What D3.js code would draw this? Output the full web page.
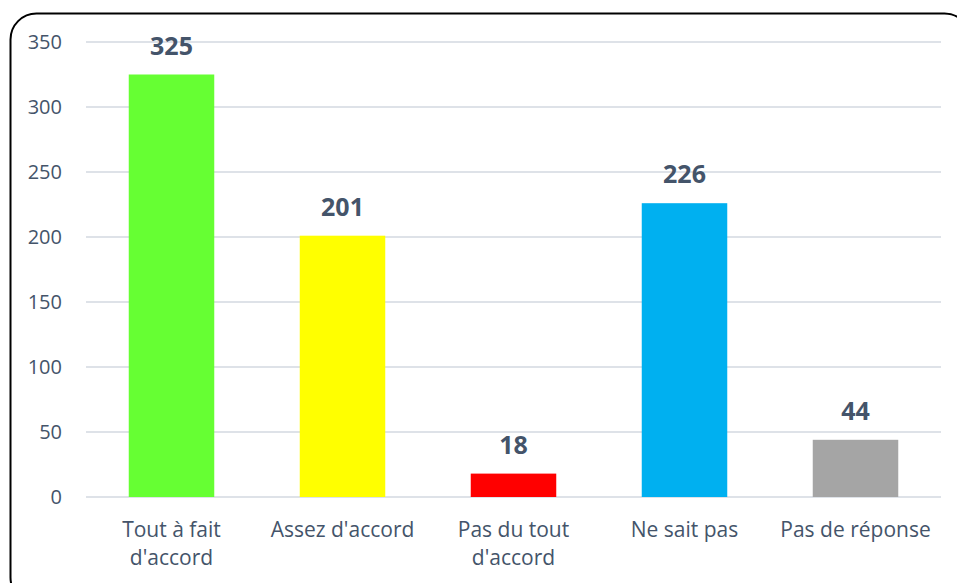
<!DOCTYPE html>
<html lang="fr">
    <head>
        <meta charset="utf-8">
        <title>Réponses</title>
        <script src="https://d3js.org/d3.v7.min.js"></script>
        <style>
            body { margin: 0; background: white; }
            text { font-family: "Open Sans", Lato, sans-serif; }
        </style>
    </head>
    <body>
        <script type="text/javascript">

            var categories = ["Tout à fait|d'accord", "Assez d'accord", "Pas du tout|d'accord", "Ne sait pas", "Pas de réponse"];
            var values = [325, 201, 18, 226, 44];
            var colors = ["#66FF33", "#FFFF00", "#FF0000", "#00B0F0", "#A5A5A5"];
            var yTicks = [0, 50, 100, 150, 200, 250, 300, 350];

            var outerWidth = 957, outerHeight = 583;
            var margin = { left: 86, top: 42, right: 16, bottom: 86 };
            var innerWidth = outerWidth - margin.left - margin.right;
            var innerHeight = outerHeight - margin.top - margin.bottom;

            var svg = d3.select("body").append("svg")
                .attr("width", outerWidth)
                .attr("height", outerHeight);

            // rounded frame, runs off the right and bottom edges
            svg.append("rect")
                .attr("x", 10.5).attr("y", 13.5)
                .attr("width", 960).attr("height", 590)
                .attr("rx", 26).attr("ry", 26)
                .attr("fill", "none")
                .attr("stroke", "black")
                .attr("stroke-width", 2);

            var g = svg.append("g")
                .attr("transform", `translate(${margin.left},${margin.top})`);

            var xScale = d3.scaleBand()
                .domain(categories)
                .range([0, innerWidth])
                .paddingInner(0.5)
                .paddingOuter(0.25);

            var yScale = d3.scaleLinear()
                .domain([0, 350])
                .range([innerHeight, 0]);

            // gridlines
            g.selectAll("line.grid")
                .data(yTicks)
                .enter().append("line")
                .attr("class", "grid")
                .attr("x1", 0).attr("x2", innerWidth)
                .attr("y1", d => yScale(d)).attr("y2", d => yScale(d))
                .attr("stroke", "#DEE2E8")
                .attr("stroke-width", 2);

            var yAxis = g.append("g")
                .call(d3.axisLeft(yScale).tickValues(yTicks).tickSize(0).tickPadding(24));
            yAxis.select(".domain").remove();
            yAxis.selectAll("text")
                .attr("fill", "#44546A")
                .style("font-size", "20px");

            g.selectAll("rect.bar")
                .data(values)
                .enter().append("rect")
                .attr("class", "bar")
                .attr("x", (d, i) => xScale(categories[i]))
                .attr("width", xScale.bandwidth())
                .attr("y", d => yScale(d))
                .attr("height", d => innerHeight - yScale(d))
                .attr("fill", (d, i) => colors[i]);

            g.selectAll("text.value")
                .data(values)
                .enter().append("text")
                .attr("class", "value")
                .attr("x", (d, i) => xScale(categories[i]) + xScale.bandwidth() / 2)
                .attr("y", d => yScale(d) - 20)
                .attr("text-anchor", "middle")
                .attr("fill", "#44546A")
                .style("font-size", "25px")
                .style("font-weight", "bold")
                .text(d => d);

            var labels = g.selectAll("text.cat")
                .data(categories)
                .enter().append("text")
                .attr("class", "cat")
                .attr("x", d => xScale(d) + xScale.bandwidth() / 2)
                .attr("y", innerHeight + 40)
                .attr("text-anchor", "middle")
                .attr("fill", "#44546A")
                .style("font-size", "21px");

            labels.selectAll("tspan")
                .data(d => d.split("|"))
                .enter().append("tspan")
                .attr("x", function() { return d3.select(this.parentNode).attr("x"); })
                .attr("dy", (d, i) => i === 0 ? 0 : 28)
                .text(d => d);

        </script>
    </body>
</html>
